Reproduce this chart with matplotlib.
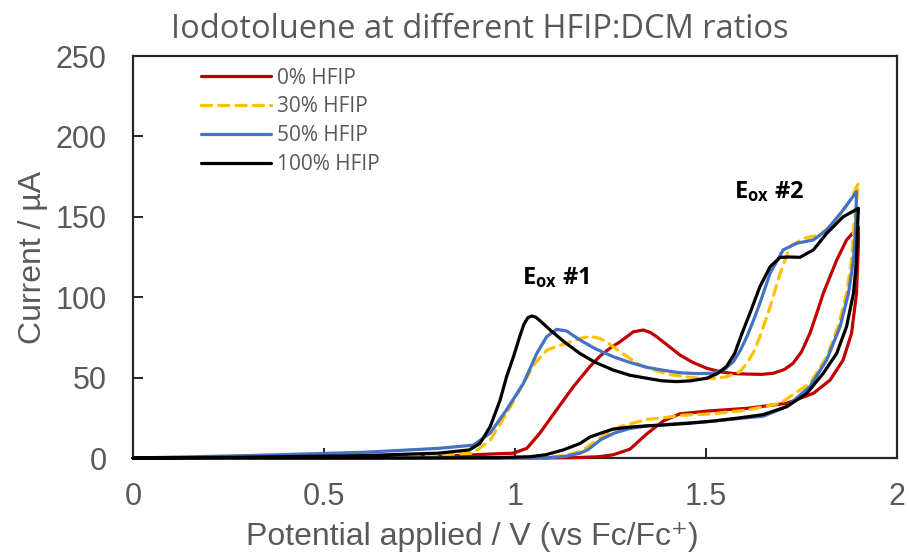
import matplotlib
matplotlib.use("Agg")
import matplotlib.pyplot as plt

# ---------------- data ----------------
labels = ["0% HFIP", "30% HFIP", "50% HFIP", "100% HFIP"]
colors = ["#C00000", "#FFC000", "#4472C4", "#000000"]

red_fwd_v = [0, 0.5, 0.8, 0.89, 0.995, 1.031, 1.065, 1.109, 1.153, 1.196, 1.223, 1.25, 1.275, 1.31, 1.336,
             1.355, 1.371, 1.4, 1.432, 1.465, 1.502, 1.54, 1.572, 1.607, 1.645, 1.676, 1.705, 1.728, 1.75,
             1.772, 1.79, 1.807, 1.825, 1.842, 1.868, 1.899]
red_fwd_i = [0, 0, 1, 2, 3, 6, 15.4, 30, 44.4, 56.8, 63.5, 68.5, 72.3, 78.5, 79.6,
             78, 75.4, 70, 64, 59.5, 55.8, 53.5, 52.5, 52.2, 52, 52.7, 55, 58.9, 66,
             77.5, 90, 102.4, 113, 123, 135.6, 143.8]
red_rev_v = [1.899, 1.894, 1.881, 1.859, 1.825, 1.781, 1.711, 1.607, 1.51, 1.432, 1.388, 1.345,
             1.301, 1.257, 1.22, 1.15, 1.0, 0.7, 0.4, 0]
red_rev_i = [133.5, 102.4, 77.5, 61, 48.5, 40.2, 34, 30.9, 29.3, 27.5, 23, 15,
             5.5, 2, 0.8, 0.2, 0, 0, 0, 0]

yel_fwd_v = [0, 0.3, 0.6, 0.804, 0.89, 0.935, 0.978, 1.022, 1.052, 1.083, 1.11, 1.135, 1.165, 1.196,
             1.22, 1.24, 1.275, 1.327, 1.397, 1.445, 1.484, 1.519, 1.554, 1.589, 1.607, 1.625, 1.641,
             1.668, 1.694, 1.72, 1.755, 1.798, 1.842, 1.877, 1.899]
yel_fwd_i = [0, 0, 0.5, 2, 3, 11, 27.8, 46.4, 58.9, 67, 69.5, 71.3, 74, 75.7,
             74.5, 72.3, 66, 57.8, 52.2, 50.5, 49.6, 49.4, 50.5, 53.7, 58.9, 66, 75.4,
             94, 114.9, 131.4, 136.6, 138.7, 148, 160.4, 170.8]
yel_rev_v = [1.887, 1.881, 1.868, 1.846, 1.816, 1.772, 1.694, 1.607, 1.519, 1.432, 1.388, 1.345,
             1.275, 1.24, 1.214, 1.19, 1.17, 1.13, 1.08, 1.0, 0.7, 0.4, 0]
yel_rev_i = [143.8, 123, 102.4, 81.7, 63, 46.4, 34, 29.8, 27.5, 26.5, 25, 24,
             19.5, 15, 11.2, 7, 4, 1.5, 0.5, 0, 0, 0, 0]

blu_fwd_v = [0, 0.3, 0.6, 0.8, 0.891, 0.935, 0.978, 1.022, 1.057, 1.083, 1.109, 1.135, 1.17, 1.21,
             1.257, 1.3, 1.345, 1.39, 1.432, 1.475, 1.519, 1.548, 1.572, 1.59, 1.607, 1.625, 1.641,
             1.668, 1.702, 1.737, 1.781, 1.816, 1.859, 1.894]
blu_fwd_i = [0, 1.5, 3.5, 6, 8, 15.5, 30, 46.4, 65, 75.5, 80, 79, 73.4, 68,
             63, 59.5, 56.4, 54.5, 53, 52.5, 52.7, 55, 60, 67, 75.4, 86, 96.2,
             115, 129.4, 133.5, 135.6, 141.8, 154.2, 165.6]
blu_rev_v = [1.892, 1.886, 1.873, 1.851, 1.816, 1.772, 1.711, 1.65, 1.563, 1.5, 1.432, 1.35, 1.301,
             1.26, 1.225, 1.19, 1.17, 1.13, 1.083, 1.0, 0.7, 0.4, 0]
blu_rev_i = [143.8, 123, 102.4, 81.7, 61, 44.4, 31.9, 26, 24, 22.5, 21.5, 20, 18.4,
             15.5, 11.5, 5, 3, 1, 0, 0, 0, 0, 0]

blk_fwd_v = [0, 0.3, 0.6, 0.8, 0.88, 0.908, 0.935, 0.961, 0.978, 0.996, 1.013, 1.024, 1.034, 1.044,
             1.054, 1.065, 1.092, 1.13, 1.17, 1.21, 1.257, 1.3, 1.345, 1.385, 1.423, 1.46, 1.502,
             1.53, 1.554, 1.575, 1.595, 1.615, 1.641, 1.668, 1.694, 1.72, 1.746, 1.781, 1.816,
             1.859, 1.899]
blk_fwd_i = [0, 0.5, 1.5, 3, 5, 9, 19.5, 36, 50.6, 63, 76, 83.5, 87.3, 88.3,
             87.6, 85.5, 79.6, 72, 65, 59.5, 54.7, 51.5, 49.6, 48, 47.5, 48, 49.6,
             52.5, 57, 65, 78, 90, 106.5, 119, 124.8, 125, 124.8, 129.4, 139.7,
             150, 155.3]
blk_rev_v = [1.896, 1.894, 1.886, 1.868, 1.842, 1.807, 1.764, 1.711, 1.65, 1.589, 1.52, 1.45,
             1.388, 1.345, 1.3, 1.257, 1.223, 1.196, 1.17, 1.126, 1.08, 1.039, 0.95, 0.7, 0.4, 0]
blk_rev_i = [140, 123, 102.4, 81.7, 65, 52.7, 40.2, 31.9, 27, 25, 23, 21.5,
             20.5, 20, 19.2, 18, 15.3, 13, 9, 5, 2, 0.8, 0.2, 0, 0, 0]

series = [
    (red_fwd_v + red_rev_v, red_fwd_i + red_rev_i),
    (yel_fwd_v + yel_rev_v, yel_fwd_i + yel_rev_i),
    (blu_fwd_v + blu_rev_v, blu_fwd_i + blu_rev_i),
    (blk_fwd_v + blk_rev_v, blk_fwd_i + blk_rev_i),
]

x_ticks = [0, 0.5, 1, 1.5, 2]
x_tick_labels = ["0", "0.5", "1", "1.5", "2"]
y_ticks = [0, 50, 100, 150, 200, 250]

# ---------------- figure ----------------
plt.rcParams["mathtext.fontset"] = "custom"
plt.rcParams["mathtext.rm"] = "Open Sans"
plt.rcParams["mathtext.bf"] = "Open Sans:bold"

fig = plt.figure(figsize=(9.09, 5.56), dpi=100)
ax = fig.add_axes([133 / 909, 98 / 556, 764 / 909, 402 / 556])

gray = "#595959"
for (v, i), c, lab in zip(series, colors, labels):
    if lab == "30% HFIP":
        ax.plot(v, i, color=c, lw=2.3, ls=(0, (3.2, 2.2)), dash_capstyle="round",
                solid_joinstyle="round", label=lab, clip_on=False, zorder=3)
    else:
        ax.plot(v, i, color=c, lw=2.3, solid_capstyle="round", solid_joinstyle="round",
                label=lab, clip_on=False, zorder=3)

ax.set_xlim(0, 2)
ax.set_ylim(0, 250)
ax.set_xticks(x_ticks)
ax.set_xticklabels(x_tick_labels)
ax.set_yticks(y_ticks)

for s in ax.spines.values():
    s.set_color("#262626")
    s.set_linewidth(1.6)

ax.tick_params(axis="both", direction="in", length=7, width=1.4, color="#262626",
               labelsize=22, labelcolor=gray, top=False, right=False)
ax.tick_params(axis="x", pad=17)
ax.tick_params(axis="y", pad=19)
for t in ax.get_xticklabels() + ax.get_yticklabels():
    t.set_fontfamily(["Liberation Sans", "DejaVu Sans"])

ax.set_xlabel("Potential applied / V (vs Fc/Fc\u207a)", fontsize=23, color=gray,
              family=["Liberation Sans", "DejaVu Sans"])
ax.xaxis.set_label_coords(0.444, -0.158)
ax.set_ylabel("Current / \u00b5A", fontsize=23, color=gray,
              family=["Liberation Sans", "DejaVu Sans"], labelpad=5)

fig.text(480 / 909, 1 - 30 / 556, "Iodotoluene at different HFIP:DCM ratios",
         ha="center", va="center", fontsize=23.5, color=gray, family="Open Sans")

leg = ax.legend(loc="upper left", bbox_to_anchor=(0.0646, 1.018), frameon=False,
                handlelength=3.36, handletextpad=0.3, labelspacing=0.38, borderpad=0.4,
                prop={"family": "Open Sans", "size": 15})
for t in leg.get_texts():
    t.set_color(gray)

ax.text(1.107, 112, r"$\mathbf{E_{ox}}$ #1", fontsize=17, fontweight="bold",
        family="Open Sans", ha="center", va="center")
ax.text(1.665, 165.5, r"$\mathbf{E_{ox}}$ #2", fontsize=17, fontweight="bold",
        family="Open Sans", ha="center", va="center")

fig.savefig("out.png", dpi=100)
